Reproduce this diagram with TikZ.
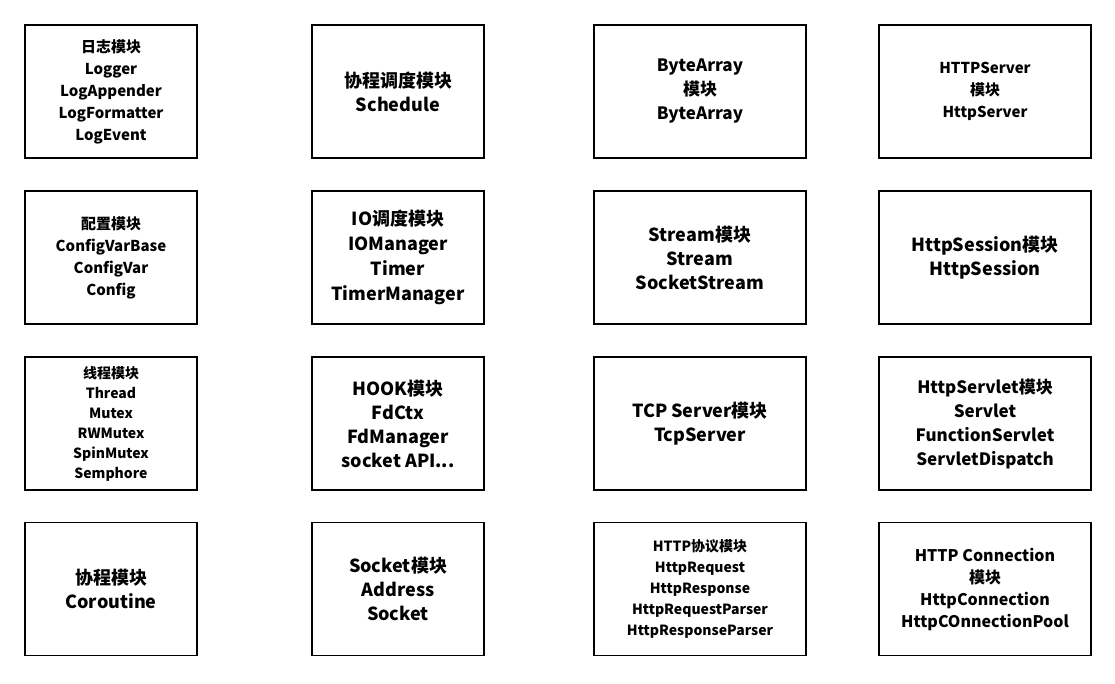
\documentclass[tikz,border=0pt]{standalone}
\usepackage{fontspec}
\setmainfont{Noto Sans CJK SC}
\newcommand{\fs}[2]{\fontsize{#1}{#2}\selectfont}
\tikzset{
  modbox/.style={draw, line width=1.5pt, minimum width=172pt, minimum height=133pt,
    align=center},
  widebox/.style={modbox, minimum width=212pt},
  txt/.style 2 args={font=\bfseries\fs{#1}{#2}},
}
\begin{document}
\begin{tikzpicture}[x=1pt,y=-1pt]
  \useasboundingbox (0,0) rectangle (1115,683);
  % column 1
  \node[modbox, txt={15}{22}] (log) at (111,91.5) {日志模块\\Logger\\LogAppender\\LogFormatter\\LogEvent};
  \node[modbox, txt={15}{22}] (cfg) at (111,257.5) {配置模块\\ConfigVarBase\\ConfigVar\\Config};
  \node[modbox, txt={14}{20}] (thr) at (111,423.5) {线程模块\\Thread\\Mutex\\RWMutex\\SpinMutex\\Semphore};
  \node[modbox, txt={18}{24}] (cor) at (111,589) {协程模块\\Coroutine};
  % column 2
  \node[modbox, txt={18}{24}] (sch) at (398,91.5) {协程调度模块\\Schedule};
  \node[modbox, txt={18}{25}] (iom) at (398,257.5) {IO调度模块\\IOManager\\Timer\\TimerManager};
  \node[modbox, txt={18}{24}] (hook) at (398,423.5) {HOOK模块\\FdCtx\\FdManager\\socket API...};
  \node[modbox, txt={18}{24}] (sock) at (398,589) {Socket模块\\Address\\Socket};
  % column 3
  \node[widebox, txt={17}{24}] (ba) at (700,91.5) {ByteArray\\模块\\ByteArray};
  \node[widebox, txt={18}{24}] (strm) at (700,257.5) {Stream模块\\Stream\\SocketStream};
  \node[widebox, txt={18}{24}] (tcp) at (700,423.5) {TCP Server模块\\TcpServer};
  \node[widebox, txt={14}{21}] (http) at (700,589) {HTTP协议模块\\HttpRequest\\HttpResponse\\HttpRequestParser\\HttpResponseParser};
  % column 4
  \node[widebox, txt={15}{22}] (hsrv) at (985,91.5) {HTTPServer\\模块\\HttpServer};
  \node[widebox, txt={18}{24}] (hses) at (985,257.5) {HttpSession模块\\HttpSession};
  \node[widebox, txt={17}{24}] (hsvl) at (985,423.5) {HttpServlet模块\\Servlet\\FunctionServlet\\ServletDispatch};
  \node[widebox, txt={16}{22}] (hcon) at (985,589) {HTTP Connection\\模块\\HttpConnection\\HttpCOnnectionPool};
\end{tikzpicture}
\end{document}
